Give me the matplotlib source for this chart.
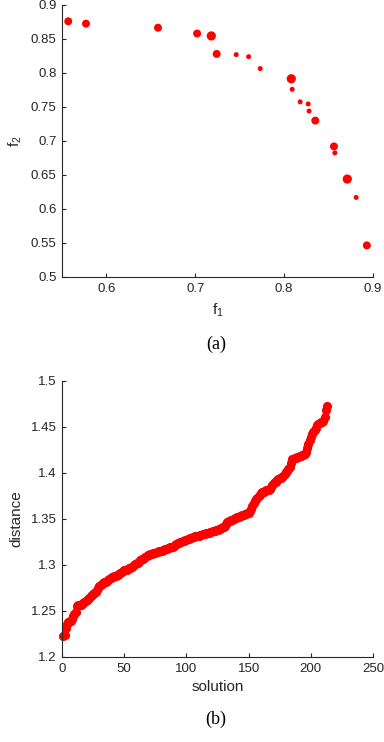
import matplotlib
matplotlib.use('Agg')
import matplotlib.pyplot as plt
from matplotlib.ticker import FuncFormatter

plt.rcParams['font.family'] = ['Liberation Sans', 'DejaVu Sans']
plt.rcParams['mathtext.fontset'] = 'custom'
plt.rcParams['mathtext.rm'] = 'Liberation Sans'

# (a) pareto front: f1, f2 and marker weight
f1 = [0.557, 0.577, 0.658, 0.702, 0.718, 0.724, 0.746, 0.760, 0.773, 0.808,
      0.809, 0.818, 0.827, 0.828, 0.835, 0.856, 0.857, 0.871, 0.881, 0.893]
f2 = [0.876, 0.8725, 0.8665, 0.858, 0.8545, 0.828, 0.827, 0.824, 0.8065, 0.7915,
      0.776, 0.7575, 0.7545, 0.744, 0.730, 0.692, 0.6825, 0.644, 0.617, 0.5465]
weight = [2, 2, 2, 2, 3, 2, 1, 1, 1, 3, 1, 1, 1, 1, 2, 2, 1, 3, 1, 2]

# (b) sorted distance for each solution
distance = [
    1.223, 1.224, 1.232, 1.236, 1.238, 1.238, 1.239, 1.241, 1.245, 1.247,
    1.249, 1.255, 1.256, 1.257, 1.257, 1.258, 1.259, 1.260, 1.261, 1.262,
    1.263, 1.264, 1.266, 1.267, 1.268, 1.270, 1.271, 1.273, 1.275, 1.277,
    1.278, 1.279, 1.280, 1.281, 1.282, 1.283, 1.284, 1.285, 1.286, 1.287,
    1.287, 1.288, 1.288, 1.289, 1.289, 1.290, 1.291, 1.292, 1.293, 1.294,
    1.294, 1.295, 1.296, 1.297, 1.297, 1.298, 1.299, 1.300, 1.301, 1.302,
    1.302, 1.303, 1.305, 1.306, 1.307, 1.308, 1.309, 1.310, 1.311, 1.311,
    1.312, 1.312, 1.313, 1.313, 1.313, 1.314, 1.314, 1.315, 1.315, 1.315,
    1.316, 1.316, 1.317, 1.317, 1.318, 1.318, 1.319, 1.320, 1.320, 1.321,
    1.322, 1.323, 1.324, 1.324, 1.325, 1.325, 1.326, 1.326, 1.327, 1.327,
    1.328, 1.328, 1.329, 1.329, 1.330, 1.330, 1.331, 1.331, 1.332, 1.332,
    1.333, 1.333, 1.334, 1.334, 1.334, 1.335, 1.335, 1.335, 1.336, 1.336,
    1.337, 1.337, 1.337, 1.338, 1.338, 1.339, 1.339, 1.340, 1.341, 1.341,
    1.342, 1.345, 1.347, 1.348, 1.348, 1.349, 1.349, 1.350, 1.351, 1.351,
    1.352, 1.352, 1.353, 1.353, 1.354, 1.354, 1.355, 1.355, 1.356, 1.357,
    1.359, 1.361, 1.364, 1.367, 1.370, 1.372, 1.373, 1.375, 1.376, 1.378,
    1.379, 1.379, 1.380, 1.381, 1.381, 1.382, 1.383, 1.385, 1.387, 1.389,
    1.390, 1.390, 1.392, 1.393, 1.394, 1.395, 1.396, 1.397, 1.399, 1.401,
    1.402, 1.404, 1.407, 1.411, 1.415, 1.415, 1.416, 1.416, 1.417, 1.417,
    1.418, 1.418, 1.419, 1.420, 1.421, 1.423, 1.427, 1.431, 1.436, 1.439,
    1.442, 1.445, 1.447, 1.449, 1.452, 1.453, 1.454, 1.455, 1.455, 1.457,
    1.461, 1.468, 1.473,
]
solution = list(range(1, len(distance) + 1))

fig = plt.figure(figsize=(3.84, 7.42), dpi=100)
ax1 = fig.add_axes([0.1615, 0.6267, 0.8100, 0.3666])
ax2 = fig.add_axes([0.1615, 0.1146, 0.8100, 0.372])

fmt = FuncFormatter(lambda v, p: '%g' % round(v, 4))
txt = '#262626'


def style(ax):
    for s in ['top', 'right']:
        ax.spines[s].set_visible(False)
    for s in ['left', 'bottom']:
        ax.spines[s].set_color('#262626')
        ax.spines[s].set_linewidth(0.8)
    ax.tick_params(direction='in', length=3, width=0.8, labelsize=9.5,
                   colors='#262626', labelcolor=txt, pad=4)
    ax.xaxis.set_major_formatter(fmt)
    ax.yaxis.set_major_formatter(fmt)


sizes = {1: 13, 2: 33, 3: 44}
ax1.scatter(f1, f2, s=[sizes[w] for w in weight], c='#ff0000', edgecolors='none',
            clip_on=False)
ax1.set_xlim(0.55, 0.9)
ax1.set_ylim(0.5, 0.9)
ax1.set_xticks([0.6, 0.7, 0.8, 0.9])
ax1.set_yticks([0.5, 0.55, 0.6, 0.65, 0.7, 0.75, 0.8, 0.85, 0.9])
style(ax1)
ax1.set_xlabel('f$_{\\mathregular{1}}$', fontsize=11, color=txt, labelpad=5)
ax1.set_ylabel('f$_{\\mathregular{2}}$', fontsize=11, color=txt, labelpad=5)

ax2.plot(solution, distance, 'o', color='#ff0000', markersize=6.6,
         markeredgewidth=0, clip_on=False)
ax2.set_xlim(0, 250)
ax2.set_ylim(1.2, 1.5)
ax2.set_xticks([0, 50, 100, 150, 200, 250])
ax2.set_yticks([1.2, 1.25, 1.3, 1.35, 1.4, 1.45, 1.5])
style(ax2)
ax2.set_xlabel('solution', fontsize=11, color=txt, labelpad=4)
ax2.set_ylabel('distance', fontsize=11, color=txt, labelpad=5)

fig.text(0.5625, 1 - 344 / 742, '(a)', ha='center', va='center',
         fontsize=13, family=['Liberation Serif', 'DejaVu Serif'])
fig.text(0.5625, 1 - 719 / 742, '(b)', ha='center', va='center',
         fontsize=13, family=['Liberation Serif', 'DejaVu Serif'])

fig.savefig('out.png', dpi=100)
